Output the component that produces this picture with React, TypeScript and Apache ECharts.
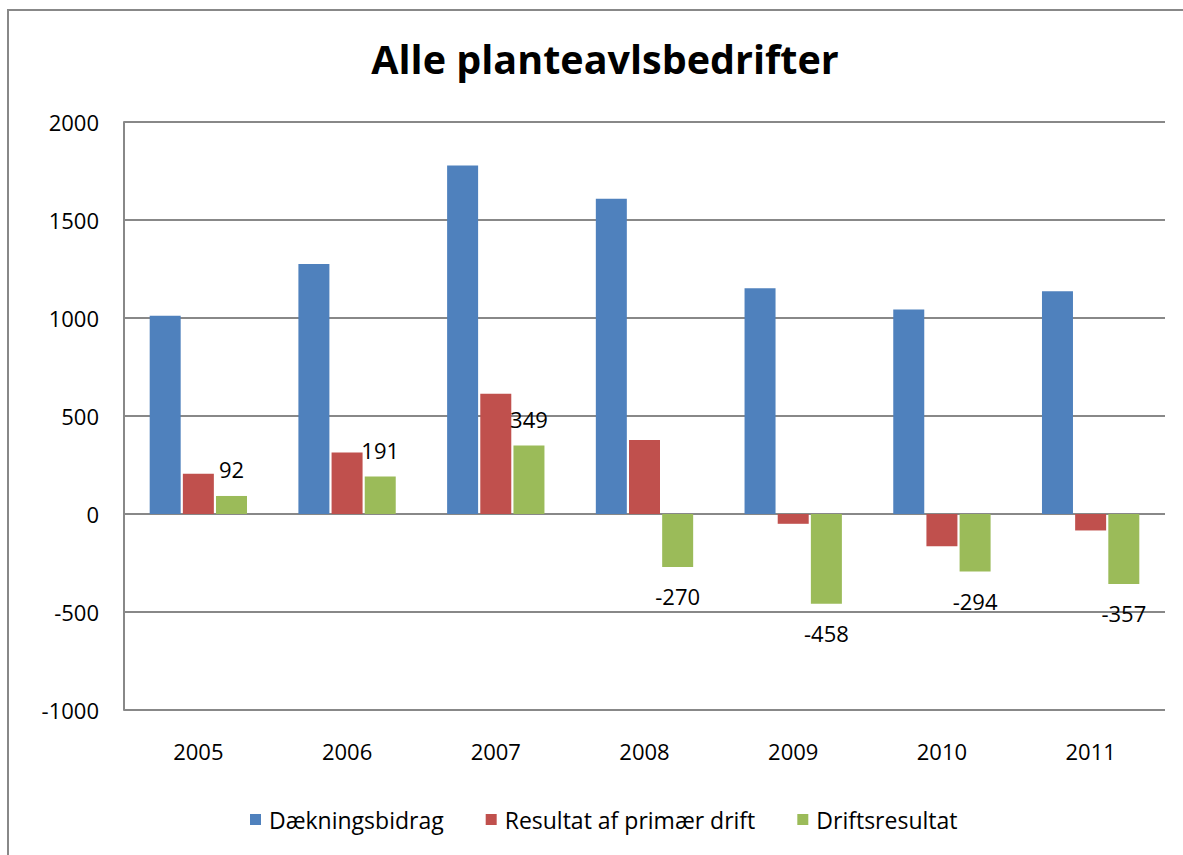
import React, { useEffect, useRef } from "react";
import * as echarts from "echarts";

const title = "Alle planteavlsbedrifter";
const years = ["2005", "2006", "2007", "2008", "2009", "2010", "2011"];
const seriesNames = ["Dækningsbidrag", "Resultat af primær drift", "Driftsresultat"];
const daekningsbidrag = [1012, 1276, 1778, 1608, 1152, 1043, 1137];
const resultatPrimaer = [205, 314, 613, 378, -50, -164, -84];
const driftsresultat = [92, 191, 349, -270, -458, -294, -357];
const yTicks = { min: -1000, max: 2000, interval: 500 };
const colors = ["#4F81BD", "#C0504D", "#9BBB59"];

const FONT = "Open Sans";

export default function App() {
  const ref = useRef<HTMLDivElement>(null);
  useEffect(() => {
    if (!ref.current) return;
    const chart = echarts.init(ref.current, null, { renderer: "svg" });
    const mkSeries = (name: string, data: number[], color: string, labels: boolean) => ({
      name,
      type: "bar",
      barWidth: 31,
      barGap: "7%",
      itemStyle: { color },
      data: data.map((v) => ({
        value: v,
        label: labels
          ? {
              show: true,
              position: v < 0 ? "bottom" : "top",
              distance: v < 0 ? 18 : 16,
              color: "#000",
              fontSize: 22,
              fontFamily: FONT,
            }
          : { show: false },
      })),
    });
    chart.setOption({
      animation: false,
      color: colors,
      title: {
        text: title,
        left: 600,
        top: 34,
        textAlign: "center",
        textStyle: { fontFamily: FONT, fontWeight: "bold", fontSize: 39.5, color: "#000" },
      },
      graphic: [
        {
          type: "rect",
          shape: { x: 8, y: 10, width: 1300, height: 1000 },
          style: { fill: "none", stroke: "#888", lineWidth: 2 },
          silent: true,
        },
      ],
      legend: {
        left: 245,
        top: 803,
        itemWidth: 11,
        itemHeight: 11,
        itemGap: 42,
        icon: "rect",
        textStyle: { fontFamily: FONT, fontSize: 23, color: "#000", padding: [0, 0, 0, 3] },
        data: seriesNames,
      },
      grid: { left: 124, right: 18, top: 122, bottom: 145, containLabel: false },
      xAxis: {
        type: "category",
        data: years,
        axisLine: { show: false, onZero: false },
        axisTick: { show: false },
        axisLabel: { margin: 30, color: "#000", fontSize: 22, fontFamily: FONT },
      },
      yAxis: {
        type: "value",
        min: yTicks.min,
        max: yTicks.max,
        interval: yTicks.interval,
        axisLine: { show: true, lineStyle: { color: "#888", width: 2 } },
        axisTick: { show: false },
        axisLabel: {
          margin: 25,
          color: "#000",
          fontSize: 22,
          fontFamily: FONT,
          formatter: (v: number) => String(v),
        },
        splitLine: { show: true, lineStyle: { color: "#888", width: 2 } },
      },
      series: [
        mkSeries(seriesNames[0], daekningsbidrag, colors[0], false),
        mkSeries(seriesNames[1], resultatPrimaer, colors[1], false),
        mkSeries(seriesNames[2], driftsresultat, colors[2], true),
      ],
    });
    return () => chart.dispose();
  }, []);
  return (
    <div
      ref={ref}
      style={{ position: "fixed", left: 0, top: 0, width: 1183, height: 855, background: "#fff" }}
    />
  );
}
